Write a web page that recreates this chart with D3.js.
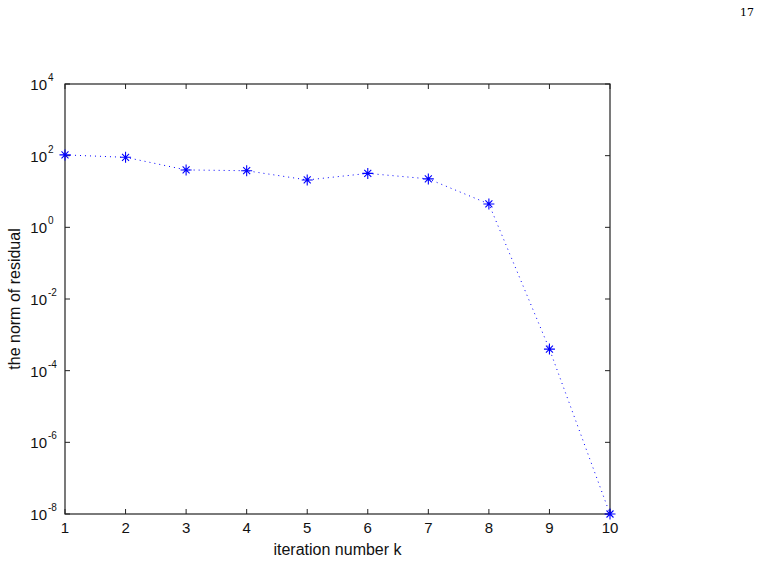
<!DOCTYPE html>
<html><head><meta charset="utf-8">
<script src="https://cdn.jsdelivr.net/npm/d3@7"></script>
<style>body{margin:0;background:#fff}svg{display:block}text{font-family:"Liberation Sans",Arial,sans-serif}</style>
</head><body>
<script>
const iterations = [1,2,3,4,5,6,7,8,9,10];
const residuals = [105, 90, 40, 38, 21, 32, 22.5, 4.5, 4e-4, 1e-8];
const xTicks = [1,2,3,4,5,6,7,8,9,10];
const yTickExps = [4,2,0,-2,-4,-6,-8];
const xLabel = "iteration number k";
const yLabel = "the norm of residual";
const pageNumber = "17";

const W=774,H=562;
const m={l:65,r:164,t:84,b:48};
const svg=d3.select("body").append("svg").attr("width",W).attr("height",H);
const x=d3.scaleLinear().domain([1,10]).range([m.l,W-m.r]);
const y=d3.scaleLog().domain([1e-8,1e4]).range([H-m.b,m.t]);
const x0=m.l,x1=W-m.r,y0=H-m.b,y1=m.t;

svg.append("text").attr("x",754).attr("y",16).attr("text-anchor","end")
  .style("font-family","'DejaVu Serif','Liberation Serif',serif").style("font-size","11px").text(pageNumber);

// box
svg.append("rect").attr("x",x0).attr("y",y1).attr("width",x1-x0).attr("height",y0-y1)
  .attr("fill","none").attr("stroke","#222").attr("stroke-width",1.2);

const g=svg.append("g");
// x ticks
xTicks.forEach(t=>{
  const px=x(t);
  g.append("line").attr("x1",px).attr("x2",px).attr("y1",y0).attr("y2",y0-5).attr("stroke","#222");
  g.append("line").attr("x1",px).attr("x2",px).attr("y1",y1).attr("y2",y1+5).attr("stroke","#222");
  g.append("text").attr("x",px).attr("y",y0+19).attr("text-anchor","middle").style("font-size","15px").attr("fill","#111").text(t);
});
// y ticks
yTickExps.forEach(e=>{
  const py=y(Math.pow(10,e));
  g.append("line").attr("x1",x0).attr("x2",x0+5).attr("y1",py).attr("y2",py).attr("stroke","#222");
  g.append("line").attr("x1",x1).attr("x2",x1-5).attr("y1",py).attr("y2",py).attr("stroke","#222");
  g.append("text").attr("x",x0-18).attr("y",py+6).attr("text-anchor","end").style("font-size","15px").attr("fill","#111").text("10");
  g.append("text").attr("x",x0-17).attr("y",py-3).attr("text-anchor","start").style("font-size","10px").attr("fill","#111").text(e);
});

// line
const line=d3.line().x((d,i)=>x(iterations[i])).y(d=>y(d));
svg.append("path").datum(residuals).attr("d",line).attr("fill","none")
  .attr("stroke","#0000ff").attr("stroke-width",1).attr("stroke-dasharray","1,4");

// star markers
const star=svg.append("g");
residuals.forEach((d,i)=>{
  const px=x(iterations[i]),py=y(d),r=5.5,rd=3.5;
  star.append("path").attr("d",`M${px-r},${py}H${px+r}M${px},${py-r}V${py+r}M${px-rd},${py-rd}L${px+rd},${py+rd}M${px-rd},${py+rd}L${px+rd},${py-rd}`)
    .attr("stroke","#0000ff").attr("stroke-width",1.1).attr("fill","none");
});

svg.append("text").attr("x",(x0+x1)/2).attr("y",555).attr("text-anchor","middle").style("font-size","16px").attr("fill","#111").text(xLabel);
svg.append("text").attr("transform",`translate(20,${(y0+y1)/2}) rotate(-90)`).attr("text-anchor","middle").style("font-size","16px").attr("fill","#111").text(yLabel);
</script>
</body></html>
